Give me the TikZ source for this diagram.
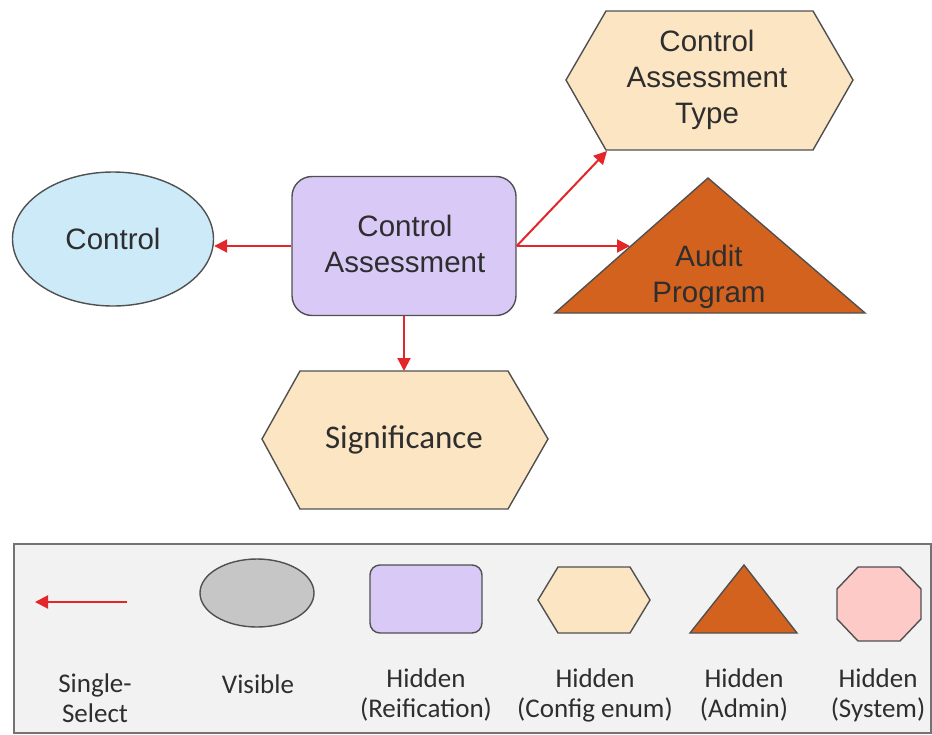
\documentclass[tikz,border=0pt]{standalone}
\usepackage{fontspec}
\setmainfont{Liberation Sans}
\newfontfamily\arialfont{Liberation Sans}
\newfontfamily\calfont{Carlito}
\usetikzlibrary{arrows.meta,shapes.geometric}
\definecolor{blueFill}{HTML}{CDEAF8}
\definecolor{purpleFill}{HTML}{D9C9F7}
\definecolor{peachFill}{HTML}{FCE5C3}
\definecolor{orangeFill}{HTML}{D4621F}
\definecolor{pinkFill}{HTML}{FDCAC7}
\definecolor{grayFill}{HTML}{C6C6C6}
\definecolor{legendBg}{HTML}{F2F2F2}
\definecolor{borderCol}{HTML}{505050}
\definecolor{arrowRed}{HTML}{E2262A}
\definecolor{textCol}{HTML}{2E2E2E}
\begin{document}
\begin{tikzpicture}[x=1pt,y=-1pt,
  shapeline/.style={draw=borderCol, line width=1.4pt},
  conn/.style={draw=arrowRed, line width=2pt, -{Triangle[length=13pt,width=13pt]}},
  maintext/.style={text=textCol, font=\arialfont\fontsize{29.5}{36}\selectfont, align=center, inner sep=0pt},
  legtext/.style={text=textCol, font=\calfont\fontsize{27}{30}\selectfont, align=center, inner sep=0pt}]
\useasboundingbox (0,0) rectangle (932,734);

% legend box
\draw[fill=legendBg, draw=borderCol!80, line width=1.5pt] (14,544) rectangle (931,733);

% Control ellipse
\node[ellipse, shapeline, fill=blueFill, minimum width=201pt, minimum height=134pt, maintext] (ctrl) at (113,239) {Control};

% Control Assessment
\node[shapeline, fill=purpleFill, rounded corners=20pt, minimum width=224pt, minimum height=139pt] (ca) at (404,246) {};
\node[maintext] (caText) at (405,244) {Control\\Assessment};

% Control Assessment Type hexagon
\draw[shapeline, fill=peachFill] (566,80) -- (606,11) -- (813,11) -- (853,80) -- (813,150) -- (606,150) -- cycle;
\node[maintext] (cat) at (707,80) {Control\\Assessment\\Type};
\coordinate (catBL) at (607,151);

% Audit Program triangle
\draw[shapeline, fill=orangeFill] (555,313) -- (708,178) -- (865,313) -- cycle;
\node[maintext] (audit) at (709,277) {Audit\\Program};
\coordinate (auditL) at (630,246);

% Significance hexagon
\draw[shapeline, fill=peachFill] (262,439) -- (300,371) -- (508,371) -- (548,439) -- (508,509) -- (300,509) -- cycle;
\node[maintext, font=\calfont\fontsize{33}{36}\selectfont] (sig) at (404,440) {Significance};
\coordinate (sigT) at (404,371);

% connectors
\draw[conn] (ca.west) -- (ca.west -| ctrl.east);
\draw[conn] (ca.south) -- (sigT);
\draw[conn] (ca.east) -- (auditL);
\draw[conn] (ca.east) -- (catBL);

% legend items
\coordinate (legA) at (127,602);
\coordinate (legB) at (35,602);
\draw[conn] (legA) -- (legB);
\node[ellipse, shapeline, fill=grayFill, minimum width=114pt, minimum height=68pt] (legVis) at (257,593) {};
\node[shapeline, fill=purpleFill, rounded corners=10pt, minimum width=112pt, minimum height=68pt] (legReif) at (426,599) {};
\draw[shapeline, fill=peachFill] (538,600) -- (558,567) -- (630,567) -- (650,600) -- (630,633) -- (558,633) -- cycle;
\draw[shapeline, fill=orangeFill] (690,633) -- (744,565) -- (797,633) -- cycle;
\draw[shapeline, fill=pinkFill] (858,567) -- (900,567) -- (921,589) -- (921,619) -- (900,641) -- (858,641) -- (837,619) -- (837,589) -- cycle;

\node[legtext] (t1) at (95,698) {Single-\\Select};
\node[legtext] (t2) at (258,684) {Visible};
\node[legtext] (t3) at (426,695) {Hidden\\(Reification)};
\node[legtext] (t4) at (595,695) {Hidden\\(Config enum)};
\node[legtext] (t5) at (744,695) {Hidden\\(Admin)};
\node[legtext] (t6) at (878,695) {Hidden\\(System)};
\end{tikzpicture}
\end{document}
